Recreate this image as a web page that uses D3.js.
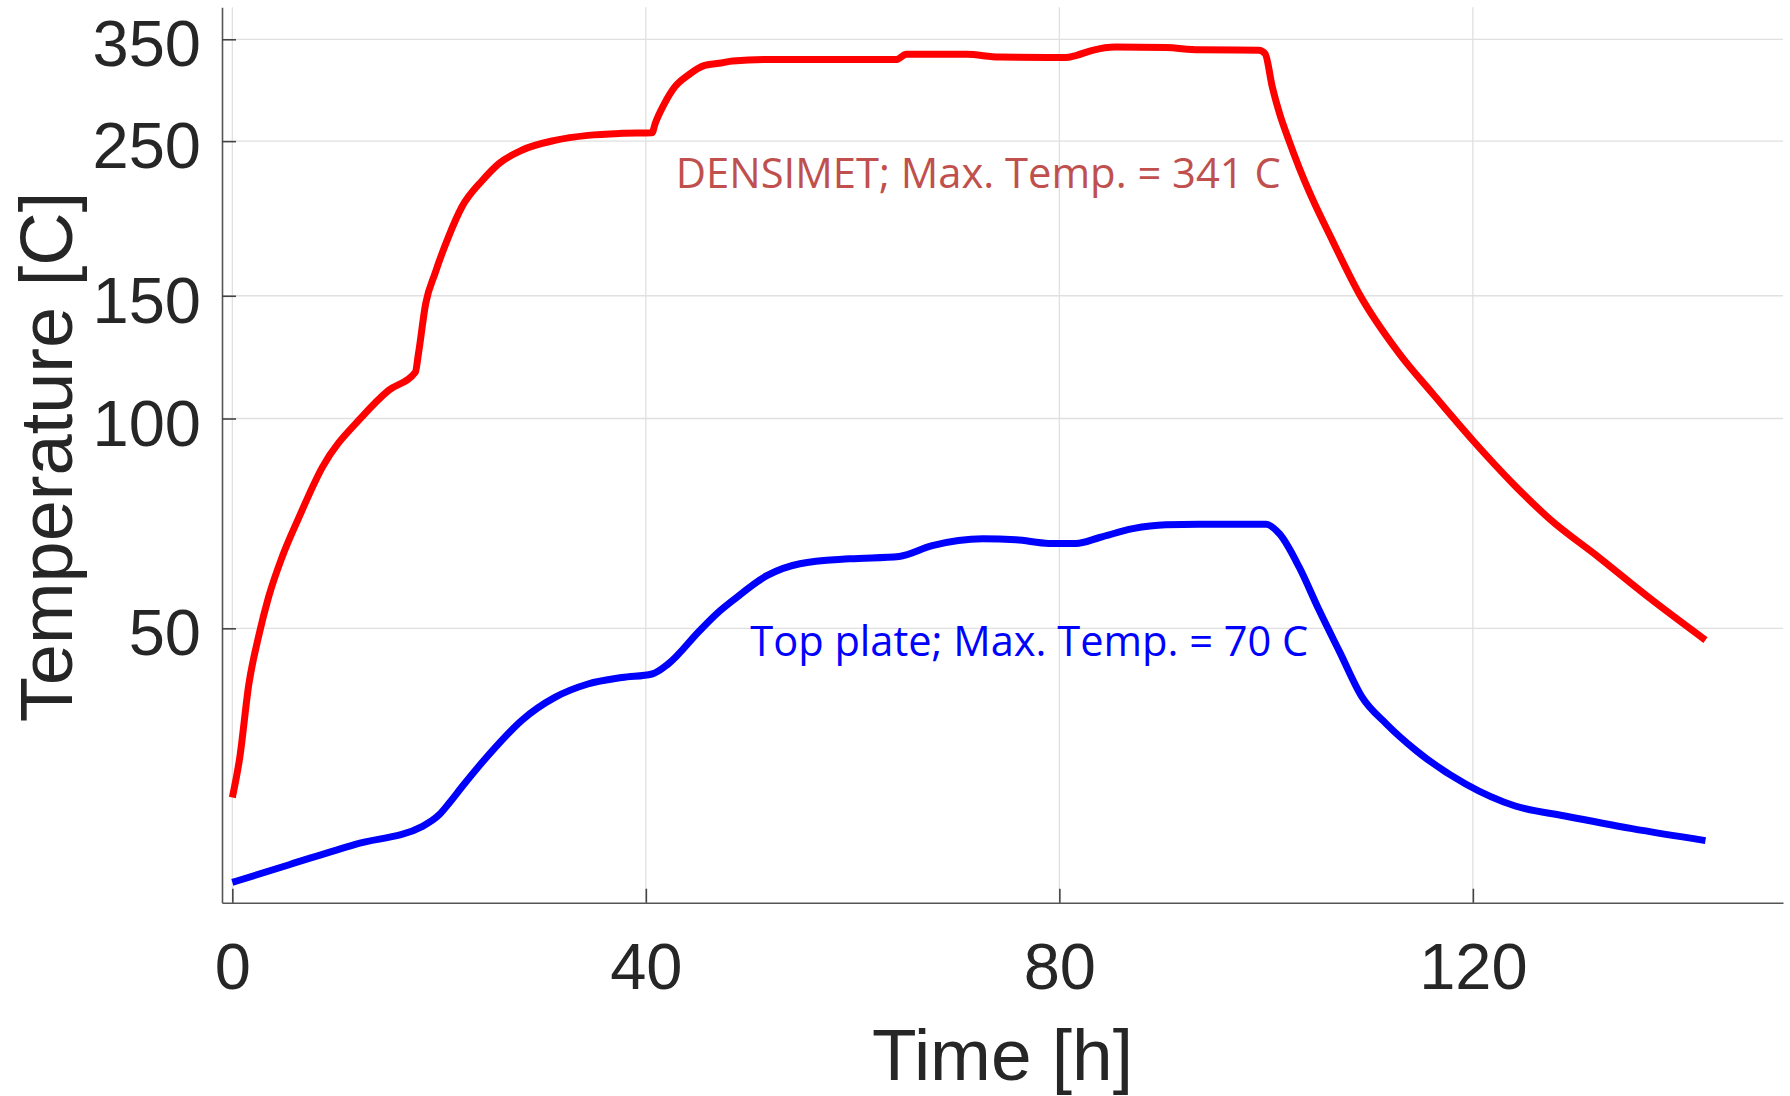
<html>
  <head>
    <meta charset="utf-8">
    <title>Temperature vs Time</title>
    <script src="https://d3js.org/d3.v7.min.js" charset="utf-8"></script>
    <style>
      body { margin: 0; background: #fff; }
      .tick text { font-family: "Liberation Sans", Arial, sans-serif; fill: #262626; }
    </style>
  </head>
  <body>
    <script>
      // DENSIMET readings (time in h, temperature in C)
      var densiTime = [0, 0.7, 1.6, 2.6, 3.5, 4.8, 6.4, 8.7, 12.6, 15.1, 17.7, 18.0, 18.7, 19.6, 20.9, 22.2, 24.2, 25.8, 28.0, 31.2, 34.4, 37.7, 40.6, 40.9, 41.8, 42.8, 44.1, 45.7, 47.3, 48.4, 51.7, 58.1, 64.2, 65.2, 71.0, 74.2, 80.6, 81.6, 83.2, 85.4, 90.3, 93.5, 99.3, 99.9, 100.6, 101.3, 102.2, 103.2, 104.2, 106.4, 109.0, 112.9, 116.1, 120.0, 124.0, 127.5, 132.2, 137.0, 142.5];
      var densiTemp = [28.6, 32.5, 41.6, 49.1, 55.4, 63.2, 71.9, 85.1, 100.8, 109.7, 116.5, 123.8, 146.1, 161.4, 182.1, 201.1, 219.7, 232.2, 242.6, 250.6, 254.8, 256.5, 257.0, 264.9, 283.0, 299.0, 310.9, 321.0, 323.6, 325.8, 327.3, 327.3, 327.3, 333.1, 333.0, 330.0, 329.5, 331.7, 337.5, 341.2, 340.5, 338.0, 337.5, 333.8, 299.0, 273.8, 250.6, 229.0, 211.0, 180.2, 151.0, 123.8, 108.6, 93.0, 80.3, 71.6, 63.2, 55.4, 48.1];

      // top plate readings
      var plateTime = [0, 5.5, 11.9, 18.4, 20.0, 21.0, 22.2, 25.4, 28.0, 31.2, 34.4, 37.7, 40.6, 42.2, 45.2, 47.0, 48.4, 51.7, 54.9, 59.7, 64.5, 67.7, 72.6, 75.8, 79.0, 81.6, 83.9, 87.1, 90.3, 93.5, 100.0, 101.3, 103.2, 105.1, 107.1, 109.3, 111.6, 114.5, 119.3, 124.1, 128.9, 135.4, 142.5];
      var plateTemp = [21.6, 22.9, 24.5, 26.0, 27.0, 28.1, 29.6, 33.7, 36.9, 39.8, 41.6, 42.5, 43.0, 44.5, 49.6, 52.7, 54.8, 59.5, 61.9, 62.9, 63.4, 65.7, 67.2, 67.0, 66.2, 66.2, 67.5, 69.5, 70.4, 70.5, 70.5, 68.3, 61.2, 53.2, 46.3, 39.8, 36.5, 33.4, 29.9, 27.8, 26.9, 25.8, 24.8];

      var xTicks = [0, 40, 80, 120];
      var yTicks = [50, 100, 150, 250, 350];

      var width = 1790,
          height = 1096;

      var plotLeft = 222, plotRight = 1783, plotTop = 7.3, plotBottom = 902.7;

      var x = d3.scaleLinear()
          .domain([-1, 150])
          .range([plotLeft, plotRight]);

      // log scale on temperature
      var y = d3.scaleLog()
          .domain([20.2, 389])
          .range([plotBottom, plotTop]);

      var svg = d3.select("body").append("svg")
          .attr("width", width)
          .attr("height", height);

      // grid
      svg.append("g").selectAll("line")
          .data(xTicks)
          .enter().append("line")
          .attr("x1", function(d) { return x(d); })
          .attr("x2", function(d) { return x(d); })
          .attr("y1", plotTop)
          .attr("y2", plotBottom)
          .attr("stroke", "#e0e0e0")
          .attr("stroke-width", 1.3);

      svg.append("g").selectAll("line")
          .data(yTicks)
          .enter().append("line")
          .attr("x1", plotLeft)
          .attr("x2", plotRight)
          .attr("y1", function(d) { return y(d); })
          .attr("y2", function(d) { return y(d); })
          .attr("stroke", "#e0e0e0")
          .attr("stroke-width", 1.3);

      var line = d3.line()
          .x(function(d) { return x(d[0]); })
          .y(function(d) { return y(d[1]); })
          .curve(d3.curveMonotoneX);

      var densi = d3.zip(densiTime, densiTemp);
      var plate = d3.zip(plateTime, plateTemp);

      svg.append("path")
          .attr("d", line(plate))
          .attr("fill", "none")
          .attr("stroke", "#0000ff")
          .attr("stroke-width", 7)
          .attr("stroke-linejoin", "round");

      svg.append("path")
          .attr("d", line(densi))
          .attr("fill", "none")
          .attr("stroke", "#ff0000")
          .attr("stroke-width", 7)
          .attr("stroke-linejoin", "round");

      // axes, ticks point inward
      var yAxis = svg.append("g")
          .attr("transform", "translate(" + plotLeft + ",0)")
          .call(d3.axisLeft(y).tickValues(yTicks).tickFormat(d3.format("d"))
              .tickSizeInner(-14).tickSizeOuter(0).tickPadding(21));

      var xAxis = svg.append("g")
          .attr("transform", "translate(0," + plotBottom + ")")
          .call(d3.axisBottom(x).tickValues(xTicks).tickFormat(d3.format("d"))
              .tickSizeInner(-14).tickSizeOuter(0).tickPadding(40));

      [yAxis, xAxis].forEach(function(g) {
        g.select(".domain").attr("stroke", "#555").attr("stroke-width", 1.6);
        g.selectAll(".tick line").attr("stroke", "#444").attr("stroke-width", 1.6);
        g.selectAll(".tick text").style("font-size", "65px");
      });
      yAxis.selectAll(".tick text").attr("dy", "0.41em");

      svg.append("text")
          .attr("x", (plotLeft + plotRight) / 2)
          .attr("y", 1080)
          .attr("text-anchor", "middle")
          .style("font-family", "'Liberation Sans', Arial, sans-serif")
          .style("font-size", "73px")
          .attr("fill", "#262626")
          .text("Time [h]");

      svg.append("text")
          .attr("transform", "translate(72," + ((plotTop + plotBottom) / 2 + 2) + ") rotate(-90)")
          .attr("text-anchor", "middle")
          .style("font-family", "'Liberation Sans', Arial, sans-serif")
          .style("font-size", "74px")
          .attr("fill", "#262626")
          .text("Temperature [C]");

      // annotations
      svg.append("text")
          .attr("x", x(42.9))
          .attr("y", y(214))
          .attr("textLength", 605)
          .attr("lengthAdjust", "spacingAndGlyphs")
          .style("font-family", "'Open Sans', sans-serif")
          .style("font-size", "42px")
          .attr("fill", "#c0504d")
          .text("DENSIMET; Max. Temp. = 341 C");

      svg.append("text")
          .attr("x", x(50.1))
          .attr("y", y(45.6))
          .attr("textLength", 558)
          .attr("lengthAdjust", "spacingAndGlyphs")
          .style("font-family", "'Open Sans', sans-serif")
          .style("font-size", "42px")
          .attr("fill", "#0000ff")
          .text("Top plate; Max. Temp. = 70 C");
    </script>
  </body>
</html>
